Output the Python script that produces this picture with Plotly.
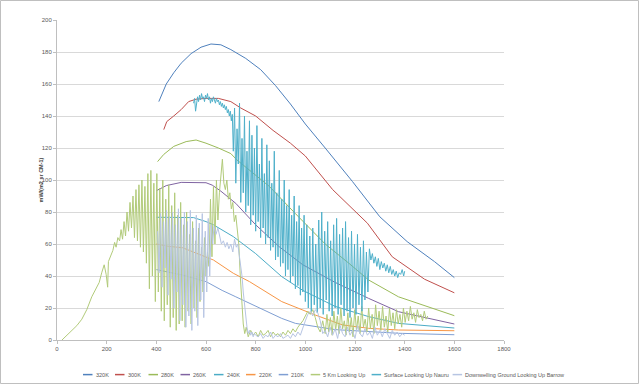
import plotly.graph_objects as go

# ---------------- data ----------------
x_320 = [410, 440, 470, 500, 540, 580, 620, 660, 700, 760, 820, 880, 940, 1000, 1080, 1190, 1300, 1410, 1520, 1600]
y_320 = [149, 160, 167, 173, 179, 183, 185, 184.5, 181.5, 176, 169, 159, 147.5, 135, 120, 99, 77, 61.5, 49, 39]

x_300 = [430, 442, 470, 500, 530, 560, 600, 650, 700, 740, 800, 870, 940, 1000, 1110, 1250, 1300, 1350, 1480, 1600]
y_300 = [131.5, 136.5, 140, 144, 149, 150.5, 151, 151, 149, 145, 140, 131, 123, 115, 94, 73, 62.5, 52, 38, 29.5]

x_280 = [405, 430, 470, 520, 560, 600, 650, 700, 725, 775, 855, 960, 1080, 1175, 1255, 1375, 1600]
y_280 = [111.5, 116, 121, 124, 125, 123, 120, 116.5, 112.5, 106, 96, 79, 60, 48, 37.5, 27, 15.2]

x_260 = [400, 440, 500, 560, 600, 625, 660, 720, 800, 895, 990, 1120, 1255, 1375, 1600]
y_260 = [93.3, 96.5, 98.5, 98.5, 98.3, 96.8, 93, 85.4, 72, 58.3, 47, 36, 26, 17.7, 10]

x_240 = [400, 440, 550, 600, 630, 710, 800, 905, 990, 1120, 1255, 1375, 1600]
y_240 = [76.7, 76.7, 76.5, 74, 72, 64.6, 54, 39.6, 31, 21, 14.6, 10.4, 7.5]

x_220 = [400, 450, 505, 600, 630, 710, 775, 905, 1040, 1150, 1255, 1375, 1600]
y_220 = [60, 58.5, 57.7, 52, 50, 41.7, 36.5, 24, 15.6, 9.4, 7.3, 6.25, 5.8]

x_210 = [400, 505, 600, 665, 720, 800, 905, 960, 1040, 1120, 1375, 1600]
y_210 = [44, 40.6, 36.5, 31, 27, 21, 13.5, 10.4, 8.3, 6.5, 4.2, 3.3]

x_5km = [20, 40, 60, 80, 100, 120, 140, 150, 160, 170, 180, 190, 198, 204, 207, 215, 225, 232, 238, 245,
         252, 258, 264, 270, 276, 282, 288, 294, 300, 306, 312, 318, 324, 330, 336, 342, 348, 354, 360, 366,
         372, 378, 384, 390, 396, 402, 408, 414, 420, 426, 432, 438, 444, 450, 456, 462, 468, 474, 480, 486,
         492, 498, 504, 510, 516, 522, 528, 534, 540, 546, 552, 558, 564, 570, 576, 582, 588, 594, 600, 606,
         612, 618, 624, 630, 636, 642, 648, 654, 660, 666, 672, 678, 684, 690, 696, 702, 708, 714, 720, 726,
         732, 738, 744, 750, 756, 762, 770, 780, 790, 800, 810, 820, 830, 840, 850, 860, 870, 880, 890, 900,
         910, 920, 930, 940, 950, 960, 970, 980, 990, 1000, 1010, 1020, 1030, 1040, 1050, 1060, 1070,
         1080, 1087, 1094, 1101, 1108, 1115, 1122, 1129, 1136, 1143, 1150, 1157, 1164, 1171, 1178, 1185,
         1192, 1199, 1206, 1213, 1220, 1227, 1234, 1241, 1248, 1255, 1262, 1269, 1276, 1283, 1290, 1297,
         1304, 1311, 1318, 1325, 1332, 1339, 1346, 1353, 1360, 1367, 1374, 1381, 1388, 1395, 1402, 1409,
         1416, 1423, 1430, 1437, 1444, 1451, 1458, 1465, 1472, 1479, 1486, 1493, 1500]
y_5km = [0, 3, 6, 9, 13, 19, 27, 30, 34, 36, 42, 47, 41, 33, 49, 52, 56, 61, 58, 64,
         62, 69, 63, 74, 65, 80, 68, 86, 70, 90, 64, 94, 62, 97, 58, 100, 55, 96, 48, 104,
         32, 106, 40, 98, 24, 104, 30, 95, 18, 100, 12, 88, 22, 97, 8, 84, 14, 92, 6, 78,
         10, 86, 12, 72, 8, 80, 18, 66, 10, 74, 20, 62, 14, 70, 24, 58, 30, 64, 40, 55,
         46, 88, 52, 96, 60, 100, 75, 92, 104, 113, 98, 94, 100, 88, 92, 82, 86, 74, 78, 66,
         60, 40, 22, 10, 4, 8, 2, 6, 3, 5, 2, 6, 3, 4, 6, 2, 5, 3, 4, 2,
         5, 3, 6, 4, 7, 5, 8, 10, 12, 15, 18, 16, 19, 14, 8, 5,
         12, 4, 16, 5, 14, 3, 18, 6, 15, 4, 20, 7, 12, 3, 17, 5,
         14, 2, 19, 6, 15, 4, 21, 8, 13, 5, 20, 7, 16, 4, 22, 9,
         18, 6, 21, 8, 15, 5, 20, 9, 17, 7, 19, 10, 16, 8, 20, 11,
         18, 12, 21, 13, 17, 11, 19, 14, 16, 12, 18, 13, 15]

x_nauru = [550, 554, 558, 562, 566, 570, 574, 578, 582, 586, 590, 594, 598, 602, 606, 610, 614, 618, 622, 626,
           630, 634, 638, 642, 646, 650, 654, 658, 662, 666, 670, 674, 678, 682, 686, 690, 694, 698, 702, 706,
           710, 715, 720, 725, 730, 735, 740, 745, 750, 755, 760, 765, 770, 775, 780, 785, 790, 795, 800, 805,
           810, 815, 820, 825, 830, 835, 840, 845, 850, 855, 860, 865, 870, 875, 880, 885, 890, 895, 900, 905,
           910, 915, 920, 925, 930, 935, 940, 945, 950, 955, 960, 965, 970, 975, 980, 985, 990, 995, 1000, 1006,
           1012, 1018, 1024, 1030, 1036, 1042, 1048, 1054, 1060, 1066, 1072, 1078, 1084, 1090, 1096, 1102, 1108, 1114, 1120, 1126,
           1132, 1138, 1144, 1150, 1156, 1162, 1168, 1174, 1180, 1186, 1192, 1198, 1204, 1210, 1216, 1222, 1228, 1234, 1240, 1246,
           1252, 1258, 1264, 1270, 1276, 1282, 1288, 1294, 1300, 1306, 1312, 1318, 1324, 1330, 1336, 1342, 1348, 1354, 1360, 1366,
           1372, 1378, 1384, 1390, 1396, 1400]
y_nauru = [148, 151, 143, 150, 152, 149, 153, 150, 154, 151, 152, 149, 153, 151, 154, 150, 152, 148, 151, 149,
           152, 150, 148, 151, 149, 150, 147, 149, 146, 148, 145, 147, 144, 146, 142, 144, 140, 143, 137, 141,
           118, 145, 98, 132, 110, 148, 86, 126, 92, 140, 80, 118, 84, 137, 72, 128, 78, 120, 68, 134,
           74, 110, 64, 126, 70, 104, 60, 122, 64, 112, 56, 98, 58, 118, 50, 92, 52, 106, 46, 88,
           48, 100, 40, 84, 44, 94, 36, 78, 40, 90, 32, 74, 34, 84, 28, 70, 30, 78, 24, 72,
           20, 65, 18, 70, 22, 60, 17, 75, 20, 80, 16, 68, 25, 74, 18, 62, 15, 72, 20, 76,
           16, 66, 22, 70, 15, 74, 18, 64, 14, 68, 20, 60, 16, 66, 22, 58, 18, 62, 25, 55,
           30, 57, 50, 54, 48, 52, 46, 51, 44, 49, 45, 48, 43, 47, 42, 46, 41, 44, 40, 43,
           39, 42, 41, 44, 40, 43]

x_barrow = [405, 411, 417, 423, 429, 435, 441, 447, 453, 459, 465, 471, 477, 483, 489, 495, 501, 507, 513, 519,
            525, 531, 537, 543, 549, 555, 561, 567, 573, 579, 585, 591, 597, 603, 609, 615, 621, 627,
            632, 640, 648, 655, 662, 670, 678, 685, 692, 700, 708, 715, 722, 728, 735, 740, 745, 750,
            755, 760, 765, 770, 775, 780, 785, 790, 795, 800, 810, 820, 830, 840, 850, 860, 870, 880,
            890, 900, 910, 920, 930, 940, 950, 960, 970, 980, 990, 1000, 1010, 1020, 1030, 1040, 1050, 1060,
            1070, 1080, 1090, 1100, 1110, 1120, 1130, 1140, 1150, 1160, 1170, 1180, 1190, 1200, 1210, 1220,
            1230, 1240, 1250, 1260, 1270, 1280, 1290, 1300, 1310, 1320, 1330, 1340, 1350, 1360, 1370, 1380,
            1390, 1400]
y_barrow = [68, 42, 79, 33, 74, 45, 81, 28, 77, 38, 80, 20, 72, 30, 82, 12, 76, 22, 80, 8,
            74, 15, 81, 6, 70, 18, 78, 9, 73, 25, 79, 14, 68, 30, 76, 40, 72, 60,
            71, 66, 70, 64, 60, 62, 58, 61, 57, 60, 55, 63, 58, 60, 52, 45, 40, 30,
            22, 15, 8, 4, 6, 3, 5, 2, 4, 3, 2, 4, 1, 3, 2, 5, 1, 3,
            2, 4, 1, 2, 3, 1, 4, 2, 5, 3, 8, 12, 16, 18, 15, 19, 17, 12,
            4, 6, 2, 8, 3, 7, 1, 9, 4, 2, 8, 3, 6, 1, 9, 4,
            2, 7, 3, 5, 1, 8, 3, 6, 2, 7, 4, 1, 6, 3, 5, 2,
            4, 3]

series_names = ["320K", "300K", "280K", "260K", "240K", "220K", "210K",
                "5 Km Looking Up", "Surface Looking Up Nauru", "Downwelling Ground Looking Up Barrow"]
x_ticks = [0, 200, 400, 600, 800, 1000, 1200, 1400, 1600, 1800]
y_ticks = [0, 20, 40, 60, 80, 100, 120, 140, 160, 180, 200]
y_title = "mW/(m2 sr CM-1)"

# ---------------- styling ----------------
colors = ["#4F81BD", "#C0504D", "#9BBB59", "#8064A2", "#4BACC6", "#F79646",
          "#7F9FD3", "#B2CB7A", "#4FB0CA", "#B7C5E3"]
data = [(x_320, y_320), (x_300, y_300), (x_280, y_280), (x_260, y_260), (x_240, y_240),
        (x_220, y_220), (x_210, y_210), (x_5km, y_5km), (x_nauru, y_nauru), (x_barrow, y_barrow)]

W, H = 639, 384
L, R, T, B = 57, 135, 20, 44
pw, ph = W - L - R, H - T - B
FONT = "Liberation Sans"
GREY = "#595959"


def xp(px):
    return (px - L) / pw


def yp(py):
    return (H - B - py) / ph


fig = go.Figure()
for i in range(len(data)):
    xs, ys = data[i]
    fig.add_trace(go.Scatter(x=xs, y=ys, mode="lines", name=series_names[i],
                             line=dict(color=colors[i], width=1), showlegend=False,
                             hoverinfo="skip"))

fig.update_xaxes(range=[0, 1800], tickvals=x_ticks, ticktext=[str(v) for v in x_ticks],
                 showgrid=False, zeroline=False, showline=True, linecolor="#BFBFBF", linewidth=1,
                 ticks="outside", ticklen=3, tickcolor="#BFBFBF",
                 tickfont=dict(family=FONT, size=6, color=GREY), fixedrange=True)
fig.update_yaxes(range=[0, 200], tickvals=y_ticks, ticktext=[str(v) for v in y_ticks],
                 showgrid=True, gridcolor="#D9D9D9", gridwidth=1, zeroline=False,
                 showline=True, linecolor="#BFBFBF", linewidth=1,
                 ticks="outside", ticklen=3, tickcolor="#BFBFBF",
                 tickfont=dict(family=FONT, size=6, color=GREY), fixedrange=True)

# manual one-row legend
sw_start = [83, 115, 148.5, 180.5, 214, 246, 278.7, 310.7, 371.6, 452.6]
ly = 374.6
shapes = []
annotations = []
for i, name in enumerate(series_names):
    shapes.append(dict(type="line", xref="paper", yref="paper",
                       x0=xp(sw_start[i]), x1=xp(sw_start[i] + 9.5), y0=yp(ly), y1=yp(ly),
                       line=dict(color=colors[i], width=1.5)))
    annotations.append(dict(text=name, xref="paper", yref="paper", x=xp(sw_start[i] + 10.5), y=yp(ly),
                            xanchor="left", yanchor="middle", showarrow=False,
                            font=dict(family=FONT, size=5.5, color=GREY)))
# y-axis title
annotations.append(dict(text="<b>" + y_title + "</b>", xref="paper", yref="paper",
                        x=xp(40.5), y=yp(180), xanchor="center", yanchor="middle",
                        textangle=-90, showarrow=False,
                        font=dict(family=FONT, size=5.5, color="#404040")))
# outer chart border
shapes.append(dict(type="rect", xref="paper", yref="paper",
                   x0=xp(0.5), x1=xp(638.5), y0=yp(383.5), y1=yp(0.5),
                   line=dict(color="#BFBFBF", width=1), layer="below"))

fig.update_layout(width=W, height=H, margin=dict(l=L, r=R, t=T, b=B),
                  paper_bgcolor="white", plot_bgcolor="white",
                  shapes=shapes, annotations=annotations, showlegend=False)

fig.write_html("out.html", config={"displayModeBar": False},
               post_script="document.body.style.margin='0';document.body.style.overflow='hidden';")
